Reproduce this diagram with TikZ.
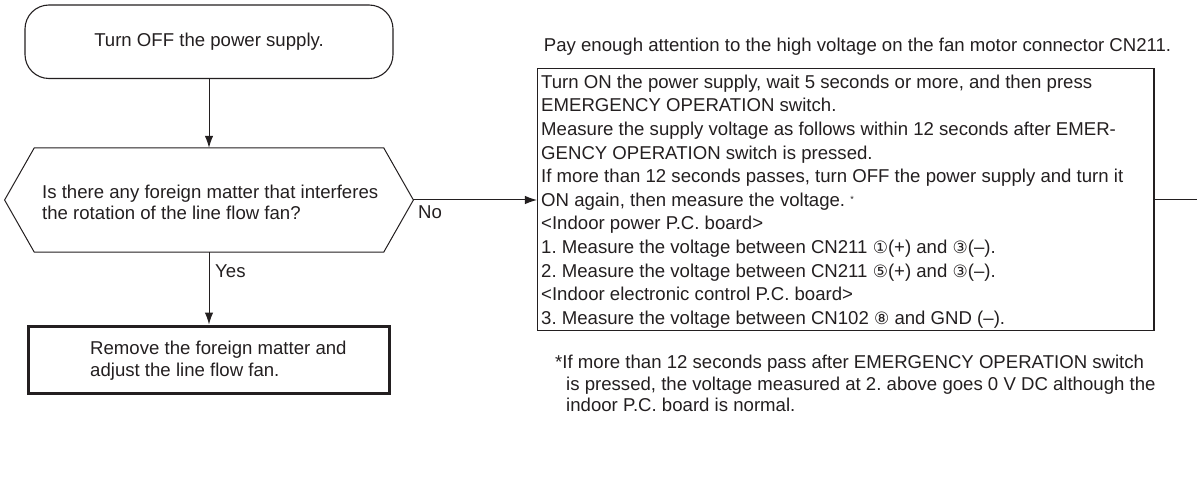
\documentclass[tikz,border=0pt]{standalone}
\usepackage{fontspec}
\setmainfont{Liberation Sans}
\newfontfamily\symfont{DejaVu Sans}
\usetikzlibrary{arrows.meta,calc}
\definecolor{ink}{HTML}{231F20}
\newcommand{\cdig}[1]{{\symfont\fontsize{17}{17}\selectfont #1}}
\frenchspacing
\begin{document}
\begin{tikzpicture}[x=1pt,y=-1pt,
  txt/.style={inner sep=0, text=ink, align=left, font=\fontsize{18.6}{23.6}\selectfont},
  line/.style={draw=ink, line width=1pt},
  arrow/.style={line, -{Latex[length=12pt,width=8.5pt]}},
  startbox/.style={draw=ink, line width=1.1pt, rounded corners=24pt, minimum width=368pt, minimum height=73.5pt, inner sep=0, text=ink, font=\fontsize{18.6}{23.6}\selectfont},
  fixbox/.style={draw=ink, line width=3pt, minimum width=361pt, minimum height=67pt, inner sep=0},
  checkbox/.style={draw=ink, line width=1.5pt, minimum width=616.3pt, minimum height=262.4pt, inner sep=0},
  lbl/.style={inner sep=0, text=ink, font=\fontsize{18.6}{23.6}\selectfont}
]
\useasboundingbox (0,0) rectangle (1197,481);

% start
\node[startbox] (start) at (209,41.75) {Turn OFF the power supply.};

% decision hexagon
\node[minimum width=408.4pt, minimum height=104pt, inner sep=0] (hex) at (209,200) {};
\draw[line] (hex.west) -- ($(hex.north west)+(29.7,0)$) -- ($(hex.north east)+(-29.7,0)$)
  -- (hex.east) -- ($(hex.south east)+(-29.7,0)$) -- ($(hex.south west)+(29.7,0)$) -- cycle;
\node[txt, anchor=north west, font=\fontsize{18.6}{20.5}\selectfont] (hextext) at (42,185)
  {Is there any foreign matter that interferes\\the rotation of the line flow fan?};

% remedy box
\node[fixbox] (fix) at (209,359.5) {};
\node[txt, anchor=north west, font=\fontsize{18.6}{21.5}\selectfont] (fixtext) at (90,341)
  {Remove the foreign matter and\\adjust the line flow fan.};

% check box
\node[checkbox] (check) at (845.85,199.5) {};
\node[txt, anchor=north west] (checktext) at (541,74.7)
  {Turn ON the power supply, wait 5 seconds or more, and then press\\
   EMERGENCY OPERATION switch.\\
   Measure the supply voltage as follows within 12 seconds after EMER-\\
   GENCY OPERATION switch is pressed.\\
   If more than 12 seconds passes, turn OFF the power supply and turn it\\
   ON again, then measure the voltage. \raisebox{4pt}{\fontsize{9}{9}\selectfont *}\\
   <Indoor power P.C. board>\\
   1. Measure the voltage between CN211 \cdig{①}(+) and \cdig{③}(–).\\
   2. Measure the voltage between CN211 \cdig{⑤}(+) and \cdig{③}(–).\\
   <Indoor electronic control P.C. board>\\
   3. Measure the voltage between CN102 \cdig{⑧} and GND (–).};

\node[lbl, anchor=base west] (title) at (543.7,51.65)
  {Pay enough attention to the high voltage on the fan motor connector CN211.};

\node[txt, anchor=north west, font=\fontsize{18.6}{21.5}\selectfont] (note) at (555,355)
  {*If more than 12 seconds pass after EMERGENCY OPERATION switch\\
   \hspace*{11pt}is pressed, the voltage measured at 2. above goes 0 V DC although the\\
   \hspace*{11pt}indoor P.C. board is normal.};

% connectors
\coordinate (out) at (1197,199.5);
\draw[arrow] (start) -- (hex);
\draw[arrow] (hex) -- (fix);
\draw[arrow] (hex.east) -- (hex.east -| check.west);
\draw[line] (check.east) -- (out);

% labels
\node[lbl, anchor=base west] (yes) at (215,277.6) {Yes};
\node[lbl, anchor=base west] (no) at (418,218.4) {No};
\end{tikzpicture}
\end{document}
